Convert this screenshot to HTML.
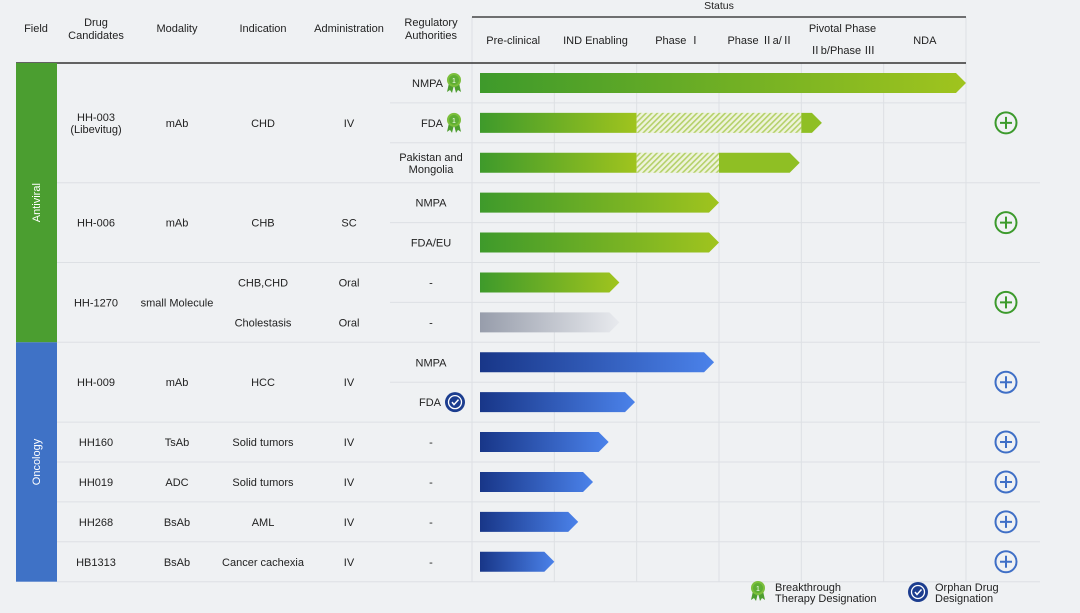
<!DOCTYPE html>
<html><head><meta charset="utf-8"><style>
html,body{margin:0;padding:0;background:#eff1f3;}
svg{display:block;font-family:"Liberation Sans","Noto Sans CJK SC",sans-serif;}
</style></head><body>
<svg id="c" width="1080" height="613" viewBox="0 0 1080 613">
<defs>
<linearGradient id="gG" x1="0" x2="1"><stop offset="0" stop-color="#3e9a2b"/><stop offset="1" stop-color="#a0c41e"/></linearGradient>
<linearGradient id="gB" x1="0" x2="1"><stop offset="0" stop-color="#183688"/><stop offset="1" stop-color="#4b82ea"/></linearGradient>
<linearGradient id="gY" x1="0" x2="1"><stop offset="0" stop-color="#979dab"/><stop offset="1" stop-color="#e8eaee"/></linearGradient>
<pattern id="hatch" width="4" height="4" patternUnits="userSpaceOnUse" patternTransform="rotate(45)"><rect width="4" height="4" fill="#eef3dc"/><rect width="1.6" height="4" fill="#b5d16a"/></pattern>
</defs>
<g id="grid"></g>
<g id="hdr" font-size="11" fill="#222" text-anchor="middle">
<text x="36" y="32">Field</text>
<text x="96" y="26"><tspan x="96">Drug</tspan><tspan x="96" dy="13">Candidates</tspan></text>
<text x="177" y="32">Modality</text>
<text x="263" y="32">Indication</text>
<text x="349" y="32">Administration</text>
<text x="431" y="26"><tspan x="431">Regulatory</tspan><tspan x="431" dy="13">Authorities</tspan></text>
<text x="719" y="9" font-size="10.5">Status</text>
</g>
<g id="body"></g>
<g id="legend" font-size="11" fill="#222">
<text x="775" y="591"><tspan x="775">Breakthrough</tspan><tspan x="775" dy="11">Therapy Designation</tspan></text>
<text x="935" y="591"><tspan x="935">Orphan Drug</tspan><tspan x="935" dy="11">Designation</tspan></text>
</g>
</svg>
<script>
const stages=["Pre-clinical","IND Enabling","Phase Ⅰ","Phase Ⅱa/Ⅱ","Pivotal Phase|Ⅱb/Phase Ⅲ","NDA"];
const regs=["NMPA","FDA","Pakistan and|Mongolia","NMPA","FDA/EU","-","-","NMPA","FDA","-","-","-","-"];
const progress=[6.0,4.25,3.98,3.0,3.0,1.79,1.79,2.94,1.98,1.66,1.47,1.29,1.0];
const hatchFrom=[null,2,2,null,null,null,null,null,null,null,null,null,null];
const hatchTo=[null,4,3,null,null,null,null,null,null,null,null,null,null];
const colors=["G","G","G","G","G","G","Y","B","B","B","B","B","B"];
const badges=["bt","bt","","","","","","","od","","","",""];
const drugs=[["HH-003|(Libevitug)","mAb","CHD","IV",0,3],["HH-006","mAb","CHB","SC",3,2],["HH-1270","small Molecule","","",5,2],["HH-009","mAb","HCC","IV",7,2],["HH160","TsAb","Solid tumors","IV",9,1],["HH019","ADC","Solid tumors","IV",10,1],["HH268","BsAb","AML","IV",11,1],["HB1313","BsAb","Cancer cachexia","IV",12,1]];
const subInd=[[5,"CHB,CHD","Oral"],[6,"Cholestasis","Oral"]];
const NS="http://www.w3.org/2000/svg";
const svg=document.getElementById('c'),G=document.getElementById('grid'),B=document.getElementById('body');
function mk(tag,at,par){const e=document.createElementNS(NS,tag);for(const k in at)e.setAttribute(k,at[k]);(par||B).appendChild(e);return e;}
const X0=472,CW=82.33,Y0=63,RH=39.9;
const sx=v=>X0+v*CW, ry=i=>Y0+i*RH;
function txt(x,y,s,name,par,fs){const t=mk('text',{x:x,y:y,'font-size':fs||11,'text-anchor':'middle',fill:'#222'},par);


const p=s.split('|');p.forEach((l,k)=>{const ts=mk('tspan',{x:x,dy:k?12:(-(p.length-1)*6)},t);ts.textContent=l;});return t;}
// grid
for(let i=1;i<=13;i++){const x1=i%1==0?(isGroupEnd(i)?57:390):0;mk('line',{x1:x1,x2:i==13?1040:(isGroupEnd(i)?1040:966),y1:ry(i),y2:ry(i),stroke:'#dde0e4','stroke-width':1},G);}
function isGroupEnd(i){return drugs.some(d=>d[4]+d[5]===i);}
for(let k=0;k<=6;k++)mk('line',{x1:sx(k),x2:sx(k),y1:k==0||k==6?17:63,y2:ry(13),stroke:'#dde0e4'},G);
mk('line',{x1:472,x2:966,y1:17,y2:17,stroke:'#222','stroke-width':1.2},G);
mk('line',{x1:16,x2:966,y1:63,y2:63,stroke:'#333','stroke-width':1.6},G);
// stage headers
stages.forEach((s,k)=>{const p=s.split('|');const cx=sx(k+0.5);
 if(p.length==1)txt(cx,44,s,'stage-header-'+k,G);
 else{txt(cx,32,p[0],'stage-header-'+k,G);txt(cx,54,p[1],'stage-header-'+k+'-sub',G);}});
// field bands
const fa=mk('rect',{x:16,y:63,width:41,height:ry(7)-63,fill:'#4b9e30'});

const fo=mk('rect',{x:16,y:ry(7),width:41,height:ry(13)-ry(7),fill:'#3f72c6'});

let t=mk('text',{x:0,y:0,'font-size':11,fill:'#fff','text-anchor':'middle',transform:`translate(40,${(63+ry(7))/2}) rotate(-90)`});t.textContent='Antiviral';

t=mk('text',{x:0,y:0,'font-size':11,fill:'#fff','text-anchor':'middle',transform:`translate(40,${(ry(7)+ry(13))/2}) rotate(-90)`});t.textContent='Oncology';

// drug rows
drugs.forEach((d,j)=>{const cy=(ry(d[4])+ry(d[4]+d[5]))/2+4;
 txt(96,cy,d[0],'drug-name-'+j);txt(177,cy,d[1],'modality-'+j);
 if(d[2])txt(263,cy,d[2],'indication-'+j);if(d[3])txt(349,cy,d[3],'administration-'+j);
 const c=d[4]<7?'#3c9a2c':'#3f6fc6';
 const g=mk('g',{transform:`translate(1006,${cy-4})`});
 
 
 mk('circle',{r:10.5,fill:'none',stroke:c,'stroke-width':2},g);
 mk('path',{d:'M-6 0H6M0 -6V6',stroke:c,'stroke-width':2},g);
});
subInd.forEach(s=>{const cy=ry(s[0])+RH/2+4;txt(263,cy,s[1],'indication-sub-'+s[0]);txt(349,cy,s[2],'administration-sub-'+s[0]);});
function ribbon(x,y,par){const g=mk('g',{transform:`translate(${x},${y})`},par);mk('path',{d:'M-5 3L-7 12L-4 10L-2 13L0 5ZM5 3L7 12L4 10L2 13L0 5Z',fill:'#4e9e30'},g);mk('circle',{r:7,fill:'#7cbf3c'},g);mk('circle',{r:5,fill:'#5fae34'},g);const tt=mk('text',{y:3,'font-size':7,fill:'#fff','text-anchor':'middle'},g);tt.textContent='1';return g;}
function orphan(x,y,par){const g=mk('g',{transform:`translate(${x},${y})`},par);mk('circle',{r:10,fill:'#1c3d8f'},g);mk('circle',{r:6.5,fill:'none',stroke:'#fff','stroke-width':1.3},g);mk('path',{d:'M-3 0L-1 2.5L3.5 -2.5',fill:'none',stroke:'#fff','stroke-width':1.5},g);return g;}
// bars
progress.forEach((v,i)=>{const cy=ry(i)+RH/2,y=cy-10,h=20,x0=480,xe=sx(v),tip=10;
 const hasB=!!badges[i];
 const rx=hasB?(badges[i]=='bt'?443:441):431;
 const rt=txt(rx,cy+4,regs[i],'regulatory-'+i);if(hasB)rt.setAttribute('text-anchor','end');
 if(badges[i]=='bt'){const r=ribbon(454,cy-3);}
 if(badges[i]=='od'){const r=orphan(455,cy);}
 const fill='url(#g'+colors[i]+')';
 const g=mk('g',{});
 
 
 if(hatchFrom[i]!=null){const a=sx(hatchFrom[i]),b=sx(hatchTo[i]);
  mk('rect',{x:x0,y:y,width:a-x0,height:h,fill:fill},g);
  mk('rect',{x:a,y:y,width:b-a,height:h,fill:'url(#hatch)'},g);
  mk('path',{d:`M${b} ${y}H${xe-tip}L${xe} ${cy}L${xe-tip} ${y+h}H${b}Z`,fill:'#8fbf24'},g);
 } else mk('path',{d:`M${x0} ${y}H${xe-tip}L${xe} ${cy}L${xe-tip} ${y+h}H${x0}Z`,fill:fill},g);
});
ribbon(758,588,document.getElementById('legend'));
orphan(918,592,document.getElementById('legend'));
</script>
</body></html>
